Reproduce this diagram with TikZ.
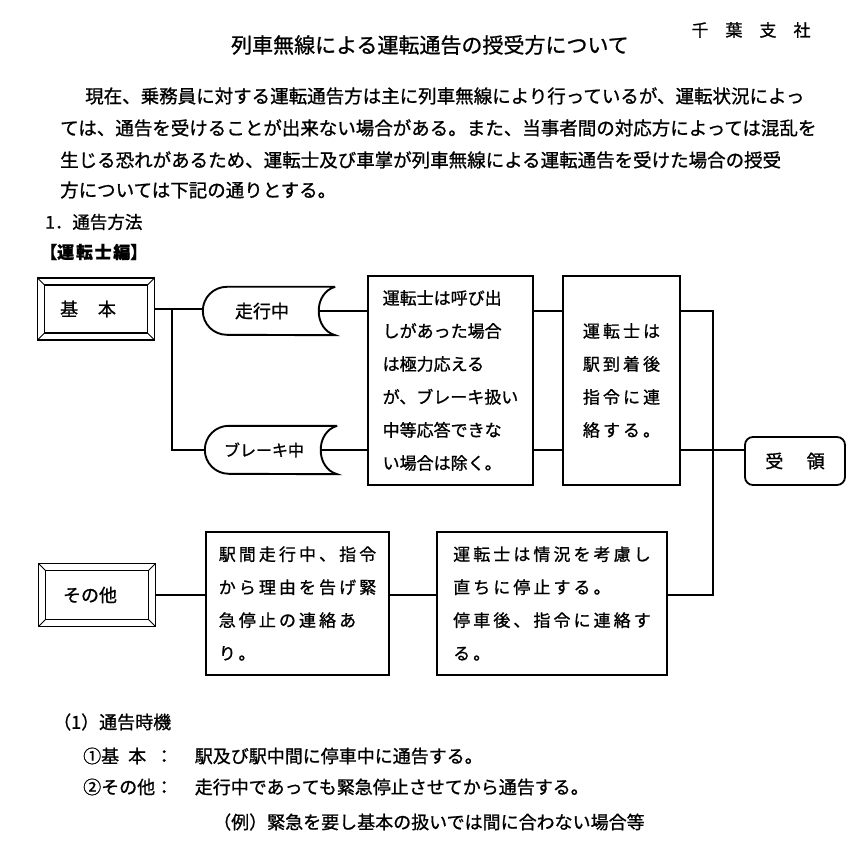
\documentclass[tikz,border=0pt]{standalone}
\usepackage{fontspec}
\setmainfont{Noto Sans CJK JP}[FakeBold=1]
\newfontfamily\jpwide{Noto Sans CJK JP}[LetterSpace=18,FakeBold=1]
\usepackage{tikz}
\usetikzlibrary{positioning,calc}
\tikzset{
  frame/.style={draw=black,line width=1.8pt,minimum width=117pt,minimum height=62pt,inner sep=0pt,
    font=\fontsize{18}{18}\selectfont,
    path picture={
      \draw[line width=1.3pt] ([shift={(7pt,-7pt)}]path picture bounding box.north west)
        rectangle ([shift={(-7pt,7pt)}]path picture bounding box.south east);
      \foreach \c/\dx/\dy in {north west/7/-7,north east/-7/-7,south west/7/7,south east/-7/7}
        \draw[line width=0.9pt] (path picture bounding box.\c) -- ++(\dx pt,\dy pt);
    }},
  tag/.style={minimum width=132pt,minimum height=48pt,inner sep=0pt,font=\fontsize{18}{18}\selectfont},
  box/.style={draw=black,line width=1.8pt,inner sep=0pt,align=left,font=\fontsize{17}{33}\selectfont},
  wide/.style={font=\jpwide\fontsize{17}{33}\selectfont},
  link/.style={draw=black,line width=2.6pt},
  para/.style={anchor=west,inner sep=0pt,font=\fontsize{18.5}{18.5}\selectfont},
  foot/.style={anchor=west,inner sep=0pt,font=\fontsize{18}{18}\selectfont},
}
\newcommand\drawtag[1]{%
  \draw[line width=1.9pt] (#1.north east) -- ([xshift=24pt]#1.north west)
    arc[start angle=90,end angle=270,radius=24pt] -- (#1.south east)
    .. controls +(-22pt,6pt) and +(-22pt,-6pt) .. (#1.north east);}

\begin{document}
\begin{tikzpicture}[x=1pt,y=-1pt]
\useasboundingbox (0,0) rectangle (868,853);
% heading and text
\node[font=\fontsize{17}{17}\selectfont] (branch) at (751,30) {千\hspace{1em}葉\hspace{1em}支\hspace{1em}社};
\node[font=\fontsize{21}{21}\selectfont] (title) at (430,45) {列車無線による運転通告の授受方について};
\node[para] (l1) at (85,96) {現在、乗務員に対する運転通告方は主に列車無線により行っているが、運転状況によっ};
\node[para] (l2) at (60,128) {ては、通告を受けることが出来ない場合がある。また、当事者間の対応方によっては混乱を};
\node[para] (l3) at (60,160) {生じる恐れがあるため、運転士及び車掌が列車無線による運転通告を受けた場合の授受};
\node[para] (l4) at (60,190) {方については下記の通りとする。};
\node[para,font=\fontsize{17.5}{17.5}\selectfont] (sec) at (45,222) {1．通告方法};
\node[para,font=\bfseries\fontsize{17}{17}\selectfont] (sub) at (40,252) {【運\hspace{0.1em}転\hspace{0.1em}士\hspace{0.1em}編】};
% flow chart
\node[frame] (kihon) at (96,309) {基\hspace{1.1em}本\hspace*{16pt}};
\node[frame,minimum height=63pt] (sonota) at (97,595) {その他\hspace*{14pt}};
\node[tag] (run) at (269,311) {走行中\hspace*{14pt}};
\node[tag,font=\fontsize{16}{16}\selectfont] (brake) at (271,450) {ブレーキ中\hspace*{14pt}};
\drawtag{run}
\drawtag{brake}
\node[box,minimum width=165pt,minimum height=209pt] (call) at (450.5,380.5)
  {運転士は呼び出\\しがあった場合\\は極力応える\\が、ブレーキ扱い\\中等応答できな\\い場合は除く。};
\node[box,wide,minimum width=117pt,minimum height=209pt] (report) at (621.5,380.5)
  {運転士は\\駅到着後\\指令に連\\絡する。};
\node[box,rounded corners=8pt,font=\fontsize{18}{18}\selectfont,minimum width=100pt,minimum height=48pt] (receipt) at (795,461)
  {受\hspace{1.3em}領};
\node[box,wide,minimum width=183pt,minimum height=143pt] (urgent) at (297.5,603.5)
  {駅間走行中、指令\\から理由を告げ緊\\急停止の連絡あ\\り。};
\node[box,wide,minimum width=230pt,minimum height=143pt] (stop) at (552,603.5)
  {運転士は情況を考慮し\\直ちに停止する。\\停車後、指令に連絡す\\る。};
\coordinate (split) at (172,0);
\coordinate (bus) at (713,0);
\draw[link] (kihon.east) -- (kihon.east -| run.west);
\draw[link] (split |- kihon.east) |- (brake.west);
\draw[link] ([xshift=-16pt]run.east) -- (run.east -| call.west);
\draw[link] ([xshift=-16pt]brake.east) -- (brake.east -| call.west);
\draw[link] (call.east |- run.east) -- (report.west |- run.east);
\draw[link] (call.east |- brake.east) -- (report.west |- brake.east);
\draw[link] (report.east |- run.east) -| (bus |- sonota.east) -- (stop.east |- sonota.east);
\draw[link] (report.east |- brake.east) -- (receipt.west |- brake.east);
\draw[link] (sonota.east) -- (sonota.east -| urgent.west);
\draw[link] (urgent.east |- sonota.east) -- (stop.west |- sonota.east);
% timing notes
\node[foot] (timing) at (53,722) {（1）通告時機};
\node[foot] (rule1) at (83,756) {\makebox[4em][l]{①基\hspace{0.5em}本}：\hspace{1.2em}駅及び駅中間に停車中に通告する。};
\node[foot] (rule2) at (83,787) {\makebox[4em][l]{②その他}：\hspace{1.2em}走行中であっても緊急停止させてから通告する。};
\node[foot] (example) at (213,822) {（例）緊急を要し基本の扱いでは間に合わない場合等};
\end{tikzpicture}
\end{document}
